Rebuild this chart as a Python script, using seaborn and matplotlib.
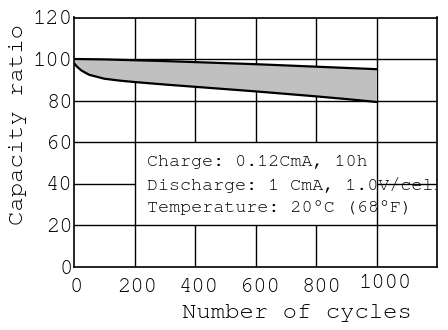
import matplotlib
matplotlib.use("Agg")
import matplotlib.pyplot as plt
import matplotlib.transforms as mtransforms
import seaborn as sns
import pandas as pd
import numpy as np
from matplotlib.patches import Rectangle

# ---- data ----
cycles_upper = [0, 100, 200, 300, 400, 500, 600, 700, 800, 900, 1000]
capacity_upper = [100.0, 99.8, 99.4, 99.0, 98.5, 98.0, 97.5, 96.9, 96.3, 95.7, 95.1]
cycles_lower = [0, 10, 25, 50, 100, 150, 200, 300, 400, 500, 600, 700, 800, 900, 1000]
capacity_lower = [98.0, 96.3, 94.4, 92.4, 90.5, 89.6, 88.9, 87.7, 86.6, 85.5, 84.4, 83.2, 82.0, 80.7, 79.3]
x_ticks = [0, 200, 400, 600, 800, 1000]
y_ticks = [0, 20, 40, 60, 80, 100, 120]
note_lines = ["Charge: 0.12CmA, 10h", "Discharge: 1 CmA, 1.0V/cell", "Temperature: 20\u00b0C (68\u00b0F)"]
x_label = "Number of cycles"
y_label = "Capacity ratio"

sns.set_theme(style="white")
plt.rcParams['font.family'] = ['FreeMono', 'Liberation Mono', 'DejaVu Sans Mono']

fig = plt.figure(figsize=(4.48, 3.30), dpi=100)
ax = fig.add_axes([74/448, 1 - 266.5/330, 363/448, 249/330])
ax.set_xlim(0, 1200)
ax.set_ylim(0, 120)

up = pd.DataFrame({"cycles": cycles_upper, "cap": capacity_upper})
lo = pd.DataFrame({"cycles": cycles_lower, "cap": capacity_lower})

# fill between curves
xs = np.array(cycles_lower, dtype=float)
up_interp = np.interp(xs, cycles_upper, capacity_upper)
ax.fill_between(xs, capacity_lower, up_interp, color="#c0c0c0", zorder=4, linewidth=0)
sns.lineplot(data=up, x="cycles", y="cap", color="black", linewidth=1.6, ax=ax, zorder=5)
sns.lineplot(data=lo, x="cycles", y="cap", color="black", linewidth=1.6, ax=ax, zorder=5)

# white note box
box_x0, box_x1, box_y0, box_y1 = 200, 1000, 20, 60
ax.add_patch(Rectangle((box_x0, box_y0), box_x1 - box_x0, box_y1 - box_y0,
                       facecolor="white", edgecolor="none", zorder=1))

# grid lines (drawn above the note text, skipping inside the box)
glw = 1.0
for y in y_ticks[1:]:
    if box_y0 < y < box_y1:
        ax.hlines(y, 0, box_x0, color="black", lw=glw, zorder=3)
        ax.hlines(y, box_x1, 1200, color="black", lw=glw, zorder=3)
    else:
        ax.hlines(y, 0, 1200, color="black", lw=glw, zorder=3)
for x in x_ticks[1:]:
    if box_x0 < x < box_x1:
        ax.vlines(x, 0, box_y0, color="black", lw=glw, zorder=3)
        ax.vlines(x, box_y1, 120, color="black", lw=glw, zorder=3)
    else:
        ax.vlines(x, 0, 120, color="black", lw=glw, zorder=3)

# note text
for i, line in enumerate(note_lines):
    ax.text(241, 50.4 - i * 11.1, line, fontsize=13.2, color="black",
            va="center", ha="left", zorder=2, clip_on=True)

for s in ax.spines.values():
    s.set_color("black")
    s.set_linewidth(1.2)
    s.set_zorder(6)

ax.set_xticks(x_ticks)
ax.set_yticks(y_ticks)
ax.set_yticklabels([str(v) for v in y_ticks])
ax.set_xticklabels([])
ax.tick_params(axis="both", length=0, labelsize=16, colors="black")
ax.tick_params(axis="y", pad=1)

# x tick labels, drawn as text so each can be nudged like in the reference
base = mtransforms.blended_transform_factory(ax.transData, ax.transAxes)
for i, v in enumerate(x_ticks):
    last = (i == len(x_ticks) - 1)
    dx = 9 if last else 2 + 0.8 * i
    dy = -17 if last else -21
    tr = base + mtransforms.ScaledTranslation(dx / 100, dy / 100, fig.dpi_scale_trans)
    ax.text(v, 0, str(v), transform=tr, fontsize=16, color="black",
            ha="center", va="center", clip_on=False)

ax.set_xlabel(x_label, fontsize=17.2, color="black")
ax.set_ylabel(y_label, fontsize=17.2, color="black")
ax.xaxis.set_label_coords(0.614, -0.15)
ax.yaxis.set_label_coords(-0.13, 0.572)

fig.savefig("out.png", dpi=100)
